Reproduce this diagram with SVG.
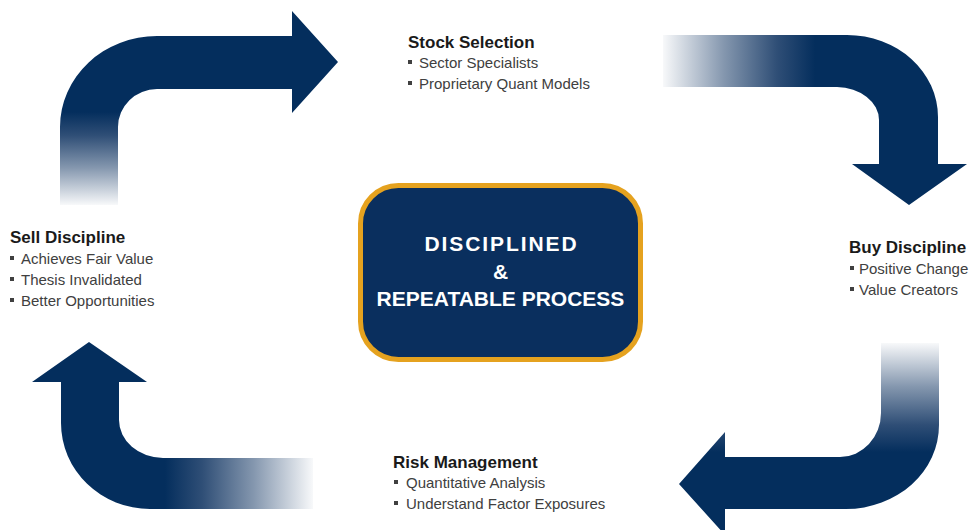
<svg xmlns="http://www.w3.org/2000/svg" width="970" height="530" viewBox="0 0 970 530">
  <defs>
    <linearGradient id="g1" gradientUnits="userSpaceOnUse" x1="0" y1="205" x2="0" y2="112">
      <stop offset="0" stop-color="#0a2f5e" stop-opacity="0.03"/>
      <stop offset="0.4" stop-color="#0a2f5e" stop-opacity="0.5"/>
      <stop offset="0.75" stop-color="#0a2f5e" stop-opacity="0.85"/>
      <stop offset="1" stop-color="#042e5d"/>
    </linearGradient>
    <linearGradient id="g2" gradientUnits="userSpaceOnUse" x1="663" y1="0" x2="815" y2="0">
      <stop offset="0" stop-color="#0a2f5e" stop-opacity="0.03"/>
      <stop offset="0.4" stop-color="#0a2f5e" stop-opacity="0.5"/>
      <stop offset="0.75" stop-color="#0a2f5e" stop-opacity="0.85"/>
      <stop offset="1" stop-color="#042e5d"/>
    </linearGradient>
    <linearGradient id="g3" gradientUnits="userSpaceOnUse" x1="0" y1="343" x2="0" y2="452">
      <stop offset="0" stop-color="#0a2f5e" stop-opacity="0.03"/>
      <stop offset="0.4" stop-color="#0a2f5e" stop-opacity="0.5"/>
      <stop offset="0.75" stop-color="#0a2f5e" stop-opacity="0.85"/>
      <stop offset="1" stop-color="#042e5d"/>
    </linearGradient>
    <linearGradient id="g4" gradientUnits="userSpaceOnUse" x1="313" y1="0" x2="165" y2="0">
      <stop offset="0" stop-color="#0a2f5e" stop-opacity="0.03"/>
      <stop offset="0.4" stop-color="#0a2f5e" stop-opacity="0.5"/>
      <stop offset="0.75" stop-color="#0a2f5e" stop-opacity="0.85"/>
      <stop offset="1" stop-color="#042e5d"/>
    </linearGradient>
  </defs>
  <style>
    .title { font-family: "Liberation Sans", Arial, sans-serif; font-weight: bold; font-size: 17px; fill: #1a1a1a; }
    .item { font-family: "Liberation Sans", Arial, sans-serif; font-size: 15px; fill: #404040; }
    .bul { fill: #404040; }
    .core { font-family: "Liberation Sans", Arial, sans-serif; font-weight: bold; font-size: 21px; fill: #ffffff; text-anchor: middle; }
    .box { fill: #0a2f5e; stroke: #e5a21f; stroke-width: 5; }
  </style>
  <rect width="970" height="530" fill="#ffffff"/>

  <g id="connectors">
    <path d="M 60 205 L 60 127 A 97 91 0 0 1 157 36 L 292 36 L 292 11 L 338 62 L 292 113 L 292 89 L 157 89 A 39 38 0 0 0 118 127 L 118 205 Z" fill="url(#g1)"/>
    <path d="M 663 35 L 847 35 A 91 82 0 0 1 938 117 L 938 164 L 967 164 L 909 205 L 852 164 L 879 164 L 879 120 A 43 33 0 0 0 837 87 L 663 87 Z" fill="url(#g2)"/>
    <path d="M 881 343 L 939 343 L 939 425 A 93 84 0 0 1 846 509 L 725 509 L 725 535 L 679 484 L 725 432 L 725 457 L 840 457 A 41 44 0 0 0 881 413 Z" fill="url(#g3)"/>
    <path d="M 313 458 L 163 458 A 44 38 0 0 1 119 420 L 119 382 L 147 382 L 89 342 L 32 382 L 61 382 L 61 423 A 89 86 0 0 0 150 509 L 313 509 Z" fill="url(#g4)"/>
  </g>

  <g id="node-center">
    <rect class="box" x="360.5" y="185.5" width="280" height="174" rx="38" ry="38"/>
    <text class="core" x="501.5" y="251" letter-spacing="1.9">DISCIPLINED</text>
    <text class="core" x="500.5" y="279">&amp;</text>
    <text class="core" x="500.5" y="306">REPEATABLE PROCESS</text>
  </g>

  <g id="node-stock">
    <text class="title" x="408" y="48">Stock Selection</text>
    <rect class="bul" x="408" y="60" width="4" height="4"/>
    <text class="item" x="419" y="68">Sector Specialists</text>
    <rect class="bul" x="408" y="81" width="4" height="4"/>
    <text class="item" x="419" y="89">Proprietary Quant Models</text>
  </g>

  <g id="node-buy">
    <text class="title" x="849" y="253">Buy Discipline</text>
    <rect class="bul" x="850" y="266" width="4" height="4"/>
    <text class="item" x="859" y="274">Positive Change</text>
    <rect class="bul" x="850" y="287" width="4" height="4"/>
    <text class="item" x="859" y="295">Value Creators</text>
  </g>

  <g id="node-risk">
    <text class="title" x="393" y="468">Risk Management</text>
    <rect class="bul" x="394" y="480" width="4" height="4"/>
    <text class="item" x="406" y="488">Quantitative Analysis</text>
    <rect class="bul" x="394" y="501" width="4" height="4"/>
    <text class="item" x="406" y="509">Understand Factor Exposures</text>
  </g>

  <g id="node-sell">
    <text class="title" x="10" y="243">Sell Discipline</text>
    <rect class="bul" x="10" y="256" width="4" height="4"/>
    <text class="item" x="21" y="264">Achieves Fair Value</text>
    <rect class="bul" x="10" y="277" width="4" height="4"/>
    <text class="item" x="21" y="285">Thesis Invalidated</text>
    <rect class="bul" x="10" y="298" width="4" height="4"/>
    <text class="item" x="21" y="306">Better Opportunities</text>
  </g>
</svg>
